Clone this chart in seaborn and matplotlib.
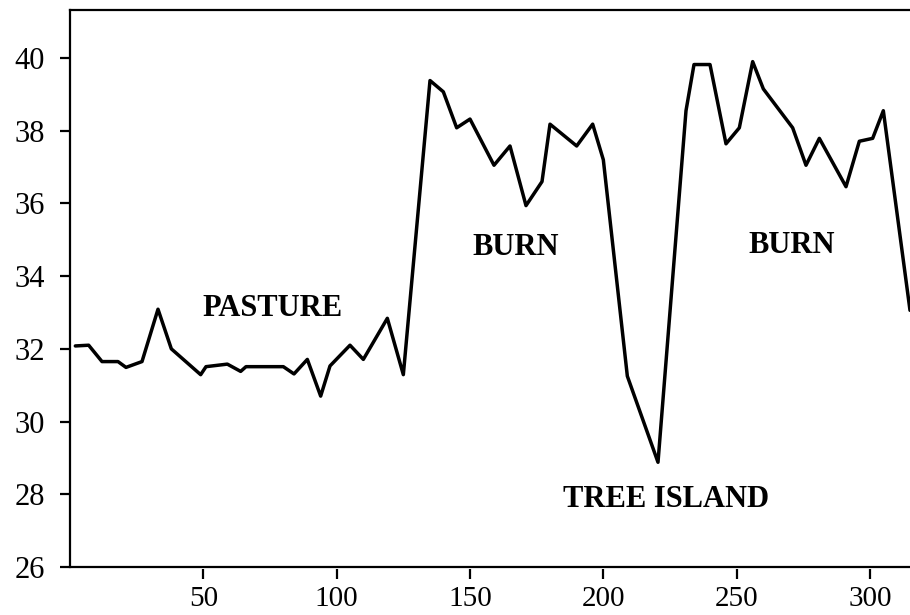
import matplotlib
matplotlib.use('Agg')
import matplotlib.pyplot as plt
import seaborn as sns

# === data ===
distance = [2, 7, 12, 18, 21, 27, 33, 38, 49, 51,
            59, 64, 66, 80, 84, 89, 94, 97.5, 105, 110,
            119, 125, 135, 140, 145, 150, 159, 165, 171, 177,
            180, 190, 196, 200, 209, 220.5, 231, 234, 240, 246,
            251, 256, 260, 271, 276, 281, 291, 296, 301, 305,
            315]
value = [32.08, 32.10, 31.65, 31.65, 31.49, 31.65, 33.09, 32.0, 31.29, 31.51,
         31.58, 31.38, 31.51, 31.51, 31.31, 31.71, 30.70, 31.53, 32.10, 31.71,
         32.84, 31.29, 39.38, 39.07, 38.08, 38.32, 37.05, 37.58, 35.94, 36.60,
         38.18, 37.58, 38.18, 37.20, 31.25, 28.88, 38.55, 39.82, 39.82, 37.64,
         38.08, 39.90, 39.15, 38.08, 37.05, 37.79, 36.46, 37.71, 37.79, 38.55,
         33.06]

x_ticks = [50, 100, 150, 200, 250, 300]
y_ticks = [26, 28, 30, 32, 34, 36, 38, 40]

labels = ['PASTURE', 'BURN', 'TREE ISLAND', 'BURN']
label_x = [76, 167, 223.5, 270.7]
label_y = [33.12, 34.79, 27.85, 34.85]

# === style ===
sns.set_theme(style='ticks')
plt.rcParams['font.family'] = ['Liberation Serif', 'DejaVu Serif']

fig = plt.figure(figsize=(9.1, 6.15), dpi=100)
ax = fig.add_axes([70 / 910, 1 - 567 / 615, 1 - 70 / 910, (567 - 10) / 615])

sns.lineplot(x=distance, y=value, color='black', linewidth=2.5, ax=ax)

for txt, tx, ty in zip(labels, label_x, label_y):
    ax.text(tx, ty, txt, ha='center', va='center', fontsize=22,
            fontweight='bold', color='black')

ax.set_xlim(0, 315)
ax.set_ylim(26, 41.32)
ax.set_xticks(x_ticks)
ax.set_yticks(y_ticks)

for side in ['left', 'top']:
    ax.spines[side].set_color('black')
    ax.spines[side].set_linewidth(1.6)
ax.spines['right'].set_visible(False)
# ticks below the box sit a little apart from the frame line
ax.spines['bottom'].set_position(('outward', 1.5))
ax.spines['bottom'].set_visible(False)
ax.axhline(26, color='black', linewidth=1.6, clip_on=False)

ax.tick_params(axis='both', colors='black', width=1.6, length=7)
ax.tick_params(axis='x', pad=5, labelsize=21)
ax.tick_params(axis='y', pad=11, labelsize=22)
ax.set_xlabel('')
ax.set_ylabel('')

fig.savefig('out.png', dpi=100)
